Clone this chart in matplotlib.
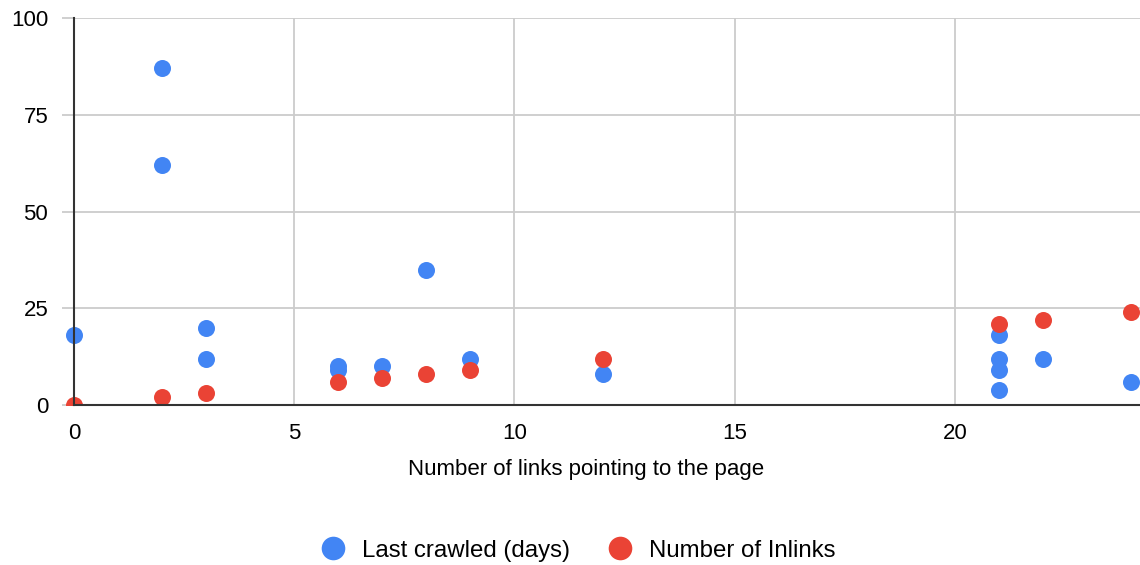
import matplotlib.pyplot as plt
from matplotlib.lines import Line2D
from matplotlib.patches import Rectangle

plt.rcParams['font.family'] = ['Liberation Sans', 'DejaVu Sans']

# links pointing to the page
links = [0, 2, 2, 3, 3, 6, 6, 7, 8, 9, 12, 21, 21, 21, 21, 22, 24]
last_crawled = [18, 87, 62, 20, 12, 10, 9, 10, 35, 12, 8, 18, 12, 9, 4, 12, 6]

inlink_x = [0, 2, 3, 6, 7, 8, 9, 12, 21, 22, 24]
inlinks = [0, 2, 3, 6, 7, 8, 9, 12, 21, 22, 24]

x_ticks = [0, 5, 10, 15, 20]
y_ticks = [0, 25, 50, 75, 100]

blue = '#4285F4'
red = '#EA4335'

fig = plt.figure(figsize=(11.4, 5.65), dpi=100)
ax = fig.add_axes([0.0649, 0.283, 0.9351, 0.685])

# points may spill past the sides and top, but not below the x axis
clip = Rectangle((-0.1, 0), 1.2, 1.2, transform=ax.transAxes)
for xs, ys, c, z in [(links, last_crawled, blue, 3), (inlink_x, inlinks, red, 4)]:
    sc = ax.scatter(xs, ys, s=150, color=c, zorder=z, linewidths=0)
    sc.set_clip_path(clip)

ax.set_xlim(0, 24.2)
ax.set_ylim(0, 100)
ax.set_xticks(x_ticks)
ax.set_yticks(y_ticks)
ax.grid(True, color='#cccccc', linewidth=1.3)
ax.set_axisbelow(True)

for side in ['top', 'right']:
    ax.spines[side].set_visible(False)
for side in ['left', 'bottom']:
    ax.spines[side].set_color('#333333')
    ax.spines[side].set_linewidth(1.5)
    ax.spines[side].set_zorder(5)

ax.tick_params(axis='y', length=8.6, color='#cccccc', width=1.3, pad=10, labelsize=16)
ax.tick_params(axis='x', length=0, pad=13, labelsize=16)

ax.set_xlabel('Number of links pointing to the page', fontsize=16)
ax.xaxis.set_label_coords(0.48, -0.14)

handles = [
    Line2D([], [], marker='o', linestyle='', markersize=17, color=blue, markeredgewidth=0),
    Line2D([], [], marker='o', linestyle='', markersize=17, color=red, markeredgewidth=0),
]
fig.legend(handles, ['Last crawled (days)', 'Number of Inlinks'],
           loc='center', bbox_to_anchor=(0.506, 0.025), ncol=2, frameon=False,
           fontsize=17.3, handletextpad=0.6, columnspacing=1.5, handlelength=1.2)

fig.savefig('out.png', dpi=100)
